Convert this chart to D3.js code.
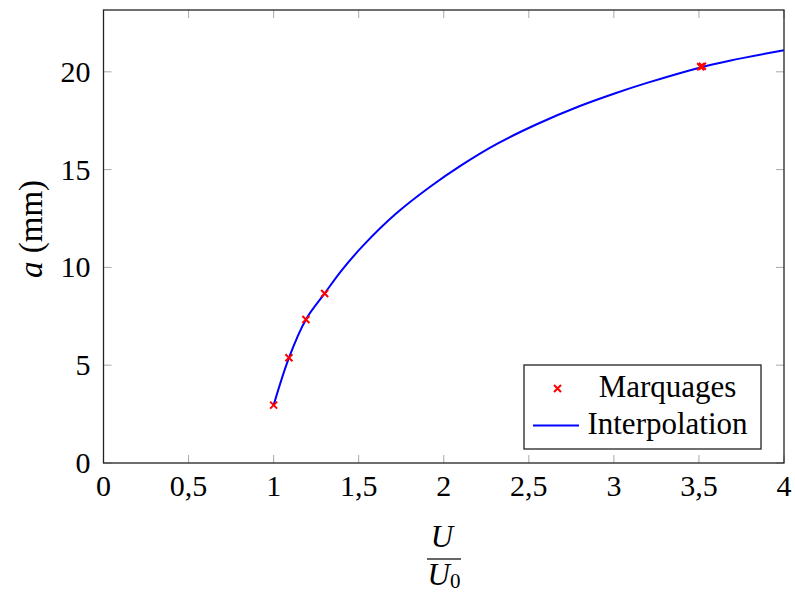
<!DOCTYPE html>
<html><head><meta charset="utf-8">
<script src="https://cdn.jsdelivr.net/npm/d3@7"></script>
<style>body{margin:0;background:#fff}svg{display:block}</style>
</head><body>
<script>
const xTicks = [0, 0.5, 1, 1.5, 2, 2.5, 3, 3.5, 4];
const xTickLabels = ["0", "0,5", "1", "1,5", "2", "2,5", "3", "3,5", "4"];
const yTicks = [0, 5, 10, 15, 20];
const yTickLabels = ["0", "5", "10", "15", "20"];
const markX = [1.00, 1.09, 1.19, 1.30, 3.51, 3.52];
const markY = [2.96, 5.38, 7.34, 8.67, 20.26, 20.28];
const interpX = [1.00, 1.09, 1.19, 1.30, 1.40, 1.53, 1.72, 1.92, 2.10, 2.31, 2.55, 2.80, 3.00, 3.19, 3.52, 3.68, 4.00];
const interpY = [2.96, 5.38, 7.34, 8.67, 9.85, 11.15, 12.75, 14.12, 15.20, 16.30, 17.33, 18.25, 18.88, 19.42, 20.25, 20.57, 21.10];
const legendLabels = ["Marquages", "Interpolation"];

const FONT = "'Liberation Serif', 'Times New Roman', Times, serif";
const W = 795, H = 594;
const L = 103.5, R = 784, T = 10, B = 463;
const svg = d3.select("body").append("svg").attr("width", W).attr("height", H)
  .attr("font-family", FONT).style("font-family", FONT);
const x = d3.scaleLinear().domain([0, 4]).range([L, R]);
const y = d3.scaleLinear().domain([0, 23.16]).range([B, T]);

const tickLen = 8, tickCol = "#a8a8a8";
const g = svg.append("g");
xTicks.forEach(v => {
  g.append("line").attr("x1", x(v)).attr("x2", x(v)).attr("y1", B).attr("y2", B - tickLen).attr("stroke", tickCol).attr("stroke-width", 1);
  g.append("line").attr("x1", x(v)).attr("x2", x(v)).attr("y1", T).attr("y2", T + tickLen).attr("stroke", tickCol).attr("stroke-width", 1);
});
yTicks.forEach(v => {
  g.append("line").attr("x1", L).attr("x2", L + tickLen).attr("y1", y(v)).attr("y2", y(v)).attr("stroke", tickCol).attr("stroke-width", 1);
  g.append("line").attr("x1", R).attr("x2", R - tickLen).attr("y1", y(v)).attr("y2", y(v)).attr("stroke", tickCol).attr("stroke-width", 1);
});

const FS = 30;
xTicks.forEach((v, i) => {
  svg.append("text").attr("x", x(v)).attr("y", B + 33).attr("text-anchor", "middle").attr("font-size", FS).text(xTickLabels[i]);
});
yTicks.forEach((v, i) => {
  svg.append("text").attr("x", L - 13).attr("y", y(v) + 10).attr("text-anchor", "end").attr("font-size", FS).text(yTickLabels[i]);
});

const pts = interpX.map((v, i) => [v, interpY[i]]);
svg.append("path").datum(pts)
  .attr("d", d3.line().x(d => x(d[0])).y(d => y(d[1])).curve(d3.curveCatmullRom.alpha(0.5)))
  .attr("fill", "none").attr("stroke", "#0000ff").attr("stroke-width", 2);

const cs = 3.5;
const crossPath = (cx, cy, s) => `M${cx - s},${cy - s}L${cx + s},${cy + s}M${cx - s},${cy + s}L${cx + s},${cy - s}`;
markX.forEach((v, i) => {
  svg.append("path").attr("d", crossPath(x(v), y(markY[i]), cs)).attr("stroke", "#ff0000").attr("stroke-width", 2).attr("fill", "none");
});

svg.append("rect").attr("x", L).attr("y", T).attr("width", R - L).attr("height", B - T)
  .attr("fill", "none").attr("stroke", "#222").attr("stroke-width", 1.3);

const lg = svg.append("g");
lg.append("rect").attr("x", 524).attr("y", 365).attr("width", 237).attr("height", 84)
  .attr("fill", "#fff").attr("stroke", "#222").attr("stroke-width", 1.3);
lg.append("path").attr("d", crossPath(557.5, 388.5, 3.5)).attr("stroke", "#ff0000").attr("stroke-width", 2);
lg.append("line").attr("x1", 533).attr("x2", 579).attr("y1", 425.5).attr("y2", 425.5).attr("stroke", "#0000ff").attr("stroke-width", 2);
lg.append("text").attr("x", 667.5).attr("y", 397).attr("text-anchor", "middle").attr("font-size", 31).text(legendLabels[0]);
lg.append("text").attr("x", 667.5).attr("y", 434).attr("text-anchor", "middle").attr("font-size", 31).text(legendLabels[1]);

const yl = svg.append("text").attr("transform", "translate(42,229) rotate(-90)").attr("text-anchor", "middle").attr("font-size", 33);
yl.append("tspan").attr("font-style", "italic").text("a");
yl.append("tspan").text(" (mm)");

svg.append("text").attr("x", 442).attr("y", 547).attr("text-anchor", "middle").attr("font-size", 31).attr("font-style", "italic").text("U");
svg.append("line").attr("x1", 427).attr("x2", 461).attr("y1", 559).attr("y2", 559).attr("stroke", "#333").attr("stroke-width", 1.5);
const xl = svg.append("text").attr("x", 427.5).attr("y", 585).attr("text-anchor", "start").attr("font-size", 31);
xl.append("tspan").attr("font-style", "italic").text("U");
xl.append("tspan").attr("font-size", 21).attr("dy", 3).text("0");
</script>
</body></html>
